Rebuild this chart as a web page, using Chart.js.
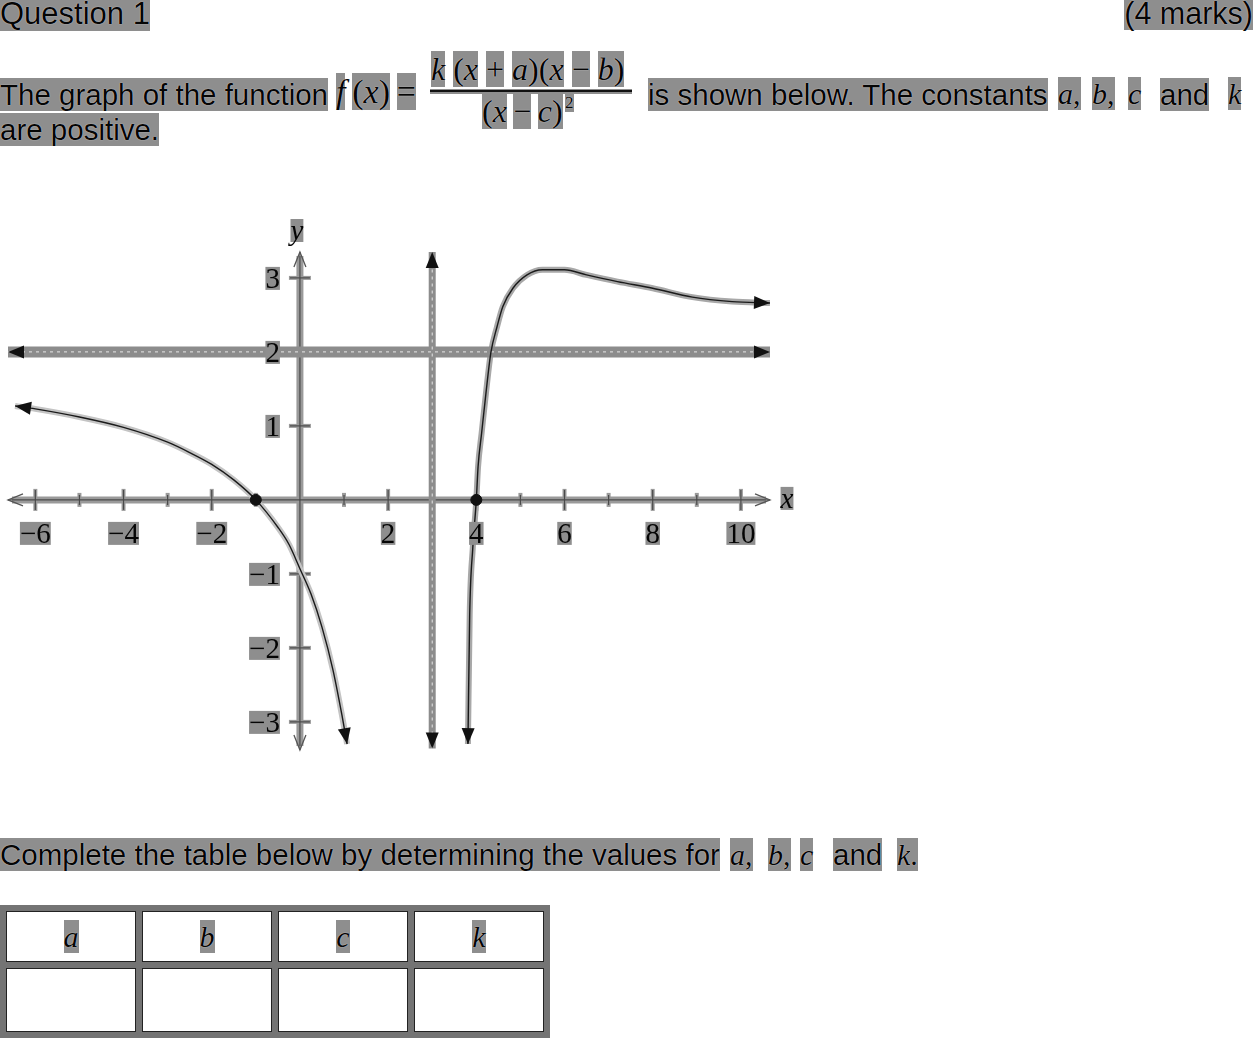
<!DOCTYPE html>
<html>
<head>
<meta charset="utf-8">
<script src="https://cdn.jsdelivr.net/npm/chart.js@4.4.1/dist/chart.umd.min.js"></script>
<style>
  html,body{margin:0;padding:0;background:#fff;}
  body{width:1253px;height:1040px;position:relative;overflow:hidden;}
  .s{position:absolute;font-family:"Liberation Sans",Arial,sans-serif;font-size:29.5px;line-height:29.5px;color:#050505;white-space:nowrap;}
  .m{position:absolute;font-family:"Liberation Serif","Times New Roman",serif;font-style:italic;font-size:30px;line-height:30px;color:#050505;white-space:nowrap;}
  .m .u{font-style:normal;}
  .g{background:#8e8e8e;text-shadow:0 0 1px #fff;}
  #wrap{position:absolute;left:0;top:200px;width:800px;height:570px;}
  table{position:absolute;left:0;top:905px;border-collapse:collapse;}
  td{border:6px solid #747474;width:130px;padding:0;text-align:center;font-family:"Liberation Serif",serif;font-style:italic;font-size:30px;color:#050505;box-shadow:inset 0 0 0 1px #222;}
  tr.h td{height:51px;}
  tr.b td{height:64px;}
</style>
</head>
<body>
<div class="s" style="left:0;top:-2px;font-size:31px;line-height:31px;"><span class="g">Question 1</span></div>
<div class="s" style="right:0;top:-2px;font-size:30.5px;line-height:30.5px;"><span class="g">(4 marks)</span></div>

<div class="s" style="left:0;top:80px;"><span class="g">The graph of the function</span></div>
<div class="m" style="left:336px;top:75px;font-size:34px;line-height:34px;"><span class="g">f</span>&thinsp;<span class="g u">(</span><span class="g">x</span><span class="g u">)</span>&thinsp;<span class="g u">=</span></div>
<div class="m" style="left:431px;top:53px;font-size:32px;line-height:32px;"><span class="g">k</span>&nbsp;<span class="g u">(</span><span class="g">x</span>&nbsp;<span class="g u">+</span>&nbsp;<span class="g">a</span><span class="g u">)(</span><span class="g">x</span>&nbsp;<span class="g u">−</span>&nbsp;<span class="g">b</span><span class="g u">)</span></div>
<div style="position:absolute;left:430px;top:89px;width:202px;height:5px;background:#8e8e8e;"></div>
<div style="position:absolute;left:430px;top:90px;width:202px;height:2px;background:#111;"></div>
<div class="m" style="left:482px;top:95px;font-size:32px;line-height:32px;"><span class="g u">(</span><span class="g">x</span>&thinsp;<span class="g u">−</span>&thinsp;<span class="g">c</span><span class="g u">)</span></div>
<div class="m" style="left:565px;top:94px;font-size:17px;line-height:17px;font-style:normal;"><span class="g">2</span></div>
<div class="s" style="left:648px;top:80px;"><span class="g">is shown below. The constants</span></div>
<div class="m" style="left:1058px;top:79px;"><span class="g">a</span><span class="g u">,</span></div>
<div class="m" style="left:1092px;top:79px;"><span class="g">b</span><span class="g u">,</span></div>
<div class="m" style="left:1128px;top:79px;"><span class="g">c</span></div>
<div class="s" style="left:1160px;top:80px;"><span class="g">and</span></div>
<div class="m" style="left:1228px;top:79px;"><span class="g">k</span></div>
<div class="s" style="left:0;top:115px;"><span class="g">are positive.</span></div>

<div id="wrap"><canvas id="c" width="800" height="570"></canvas></div>

<div class="s" style="left:0;top:840px;"><span class="g">Complete the table below by determining the values for</span></div>
<div class="m" style="left:730px;top:840px;"><span class="g">a</span><span class="g u">,</span></div>
<div class="m" style="left:768px;top:840px;"><span class="g">b</span><span class="g u">,</span></div>
<div class="m" style="left:800px;top:840px;"><span class="g">c</span></div>
<div class="s" style="left:833px;top:840px;"><span class="g">and</span></div>
<div class="m" style="left:897px;top:840px;"><span class="g">k</span><span class="g u">.</span></div>

<table>
  <tr class="h"><td><span class="g">a</span></td><td><span class="g">b</span></td><td><span class="g">c</span></td><td><span class="g">k</span></td></tr>
  <tr class="b"><td></td><td></td><td></td><td></td></tr>
</table>

<script>
// ---- data ----
const xMin = -6.62, xMax = 10.66;
const yMin = -3.38, yMax = 3.35;

const leftBranchX = [-6.46, -6, -5, -4, -3, -2.5, -2, -1.5, -1, -0.5, -0.25, 0, 0.25, 0.5, 0.75, 0.95, 1.07];
const leftBranchY = [1.27, 1.23, 1.12, 0.98, 0.78, 0.64, 0.48, 0.27, 0, -0.37, -0.6, -0.93, -1.27, -1.72, -2.3, -2.9, -3.3];

const rightBranchX = [3.81, 3.85, 3.92, 4.0, 4.04, 4.12, 4.22, 4.33, 4.47, 4.6, 4.83, 5.15, 5.5, 6, 6.5, 7.2, 8, 8.9, 9.8, 10.66];
const rightBranchY = [-3.3, -1.55, -0.65, 0, 0.45, 0.9, 1.45, 1.99, 2.34, 2.61, 2.86, 3.04, 3.11, 3.11, 3.04, 2.95, 2.86, 2.74, 2.68, 2.66];

const hAsymX = [-6.62, 10.66];
const hAsymY = [2, 2];
const vAsymX = [3, 3];
const vAsymY = [-3.36, 3.35];

const zerosX = [-1, 4];
const zerosY = [0, 0];

const xTickValues = [-6, -5, -4, -3, -2, -1, 1, 2, 3, 4, 5, 6, 7, 8, 9, 10];
const xLabelValues = [-6, -4, -2, 2, 4, 6, 8, 10];
const xLabelTexts = ['−6', '−4', '−2', '2', '4', '6', '8', '10'];
const yTickValues = [-3, -2, -1, 1, 2, 3];
const yLabelTexts = ['−3', '−2', '−1', '1', '2', '3'];

const pts = (xs, ys) => xs.map((v, i) => ({x: v, y: ys[i]}));

function filledArrow(ctx, tx, ty, ang, len, half) {
  const bx = tx - len * Math.cos(ang), by = ty - len * Math.sin(ang);
  ctx.beginPath();
  ctx.moveTo(tx, ty);
  ctx.lineTo(bx + half * Math.sin(ang), by - half * Math.cos(ang));
  ctx.lineTo(bx - half * Math.sin(ang), by + half * Math.cos(ang));
  ctx.closePath();
  ctx.fill();
}
function openArrow(ctx, tx, ty, ang, len, half) {
  const bx = tx - len * Math.cos(ang), by = ty - len * Math.sin(ang);
  ctx.beginPath();
  ctx.moveTo(bx + half * Math.sin(ang), by - half * Math.cos(ang));
  ctx.lineTo(tx, ty);
  ctx.lineTo(bx - half * Math.sin(ang), by + half * Math.cos(ang));
  ctx.stroke();
}
function line(ctx, x1, y1, x2, y2) {
  ctx.beginPath(); ctx.moveTo(x1, y1); ctx.lineTo(x2, y2); ctx.stroke();
}
function boxedText(ctx, text, x, y, align) {
  ctx.textAlign = align; ctx.textBaseline = 'alphabetic';
  const w = ctx.measureText(text).width;
  const left = align === 'center' ? x - w / 2 : (align === 'right' ? x - w : x);
  ctx.fillStyle = '#8e8e8e';
  ctx.fillRect(left, y - 21, w, 23);
  ctx.fillStyle = '#050505';
  ctx.fillText(text, x, y);
}

const axesPlugin = {
  id: 'mathAxes',
  beforeDatasetsDraw(chart) {
    const ctx = chart.ctx, sx = chart.scales.x, sy = chart.scales.y;
    const x0 = sx.getPixelForValue(0), y0 = sy.getPixelForValue(0);
    const xl = sx.getPixelForValue(xMin), xr = sx.getPixelForValue(xMax);
    const yt = sy.getPixelForValue(yMax), yb = sy.getPixelForValue(yMin);
    ctx.save();
    ctx.strokeStyle = '#9a9a9a'; ctx.lineWidth = 7;
    line(ctx, xl + 4, y0, xr - 4, y0);
    line(ctx, x0, yt + 4, x0, yb - 4);
    ctx.lineWidth = 4;
    xTickValues.forEach(v => {
      const p = sx.getPixelForValue(v), h = (v % 2 === 0) ? 11 : 7;
      line(ctx, p, y0 - h, p, y0 + h);
    });
    yTickValues.forEach(v => {
      const p = sy.getPixelForValue(v);
      line(ctx, x0 - 11, p, x0 + 11, p);
    });
    ctx.strokeStyle = '#4a4a4a'; ctx.lineWidth = 1.2;
    line(ctx, xl, y0, xr, y0);
    line(ctx, x0, yt, x0, yb);
    xTickValues.forEach(v => {
      const p = sx.getPixelForValue(v), h = (v % 2 === 0) ? 10 : 5;
      line(ctx, p, y0 - h, p, y0 + h);
    });
    yTickValues.forEach(v => {
      const p = sy.getPixelForValue(v);
      line(ctx, x0 - 10, p, x0 + 10, p);
    });
    ctx.strokeStyle = '#555'; ctx.lineWidth = 1.3;
    openArrow(ctx, xl, y0, Math.PI, 15, 6);
    openArrow(ctx, xr, y0, 0, 15, 6);
    openArrow(ctx, x0, yt, -Math.PI / 2, 15, 6);
    openArrow(ctx, x0, yb, Math.PI / 2, 15, 6);
    ctx.restore();
  },
  afterDatasetsDraw(chart) {
    const ctx = chart.ctx, sx = chart.scales.x, sy = chart.scales.y;
    const x0 = sx.getPixelForValue(0), y0 = sy.getPixelForValue(0);
    const xr = sx.getPixelForValue(xMax), yt = sy.getPixelForValue(yMax);
    ctx.save();
    ctx.fillStyle = '#111';
    chart.data.datasets.forEach((ds, i) => {
      if (!ds.arrows) return;
      const d = chart.getDatasetMeta(i).data;
      const n = d.length;
      if (ds.arrows === 'both' || ds.arrows === 'start') {
        filledArrow(ctx, d[0].x, d[0].y, Math.atan2(d[0].y - d[1].y, d[0].x - d[1].x), 16, 6.5);
      }
      if (ds.arrows === 'both' || ds.arrows === 'end') {
        filledArrow(ctx, d[n - 1].x, d[n - 1].y, Math.atan2(d[n - 1].y - d[n - 2].y, d[n - 1].x - d[n - 2].x), 16, 6.5);
      }
    });
    // tick labels on top
    ctx.font = '29px "Liberation Serif", serif';
    xLabelValues.forEach((v, i) => boxedText(ctx, xLabelTexts[i], sx.getPixelForValue(v), y0 + 43, 'center'));
    yTickValues.forEach((v, i) => boxedText(ctx, yLabelTexts[i], x0 - 20, sy.getPixelForValue(v) + 10, 'right'));
    ctx.font = 'italic 29px "Liberation Serif", serif';
    boxedText(ctx, 'x', xr + 17, y0 + 8, 'center');
    boxedText(ctx, 'y', x0 - 3, yt - 12, 'center');
    ctx.restore();
  }
};

const noPts = {pointRadius: 0, pointHoverRadius: 0, showLine: true};

new Chart(document.getElementById('c'), {
  type: 'scatter',
  data: {
    datasets: [
      {data: pts(zerosX, zerosY), pointRadius: 5.5, pointBackgroundColor: '#111', pointBorderColor: '#111', showLine: false, order: 0},
      Object.assign({data: pts(leftBranchX, leftBranchY), borderColor: '#1a1a1a', borderWidth: 1.4, cubicInterpolationMode: 'monotone', arrows: 'both', order: 1}, noPts),
      Object.assign({data: pts(rightBranchX, rightBranchY), borderColor: '#1a1a1a', borderWidth: 1.4, cubicInterpolationMode: 'monotone', arrows: 'both', order: 1}, noPts),
      Object.assign({data: pts(leftBranchX, leftBranchY), borderColor: '#c4c4c4', borderWidth: 6, cubicInterpolationMode: 'monotone', order: 8}, noPts),
      Object.assign({data: pts(rightBranchX, rightBranchY), borderColor: '#a8a8a8', borderWidth: 6, cubicInterpolationMode: 'monotone', order: 8}, noPts),
      Object.assign({data: pts(hAsymX, hAsymY), borderColor: '#e6e6e6', borderWidth: 1, borderDash: [3, 4], arrows: 'both', order: 4}, noPts),
      Object.assign({data: pts(hAsymX, hAsymY), borderColor: '#8c8c8c', borderWidth: 11, order: 6}, noPts),
      Object.assign({data: pts(vAsymX, vAsymY), borderColor: '#e6e6e6', borderWidth: 1, borderDash: [3, 4], arrows: 'both', order: 4}, noPts),
      Object.assign({data: pts(vAsymX, vAsymY), borderColor: '#8c8c8c', borderWidth: 7, order: 6}, noPts)
    ]
  },
  options: {
    responsive: false,
    animation: false,
    devicePixelRatio: 1,
    layout: {padding: {left: 8, right: 30, top: 52, bottom: 20}},
    plugins: {legend: {display: false}, tooltip: {enabled: false}},
    scales: {
      x: {type: 'linear', min: xMin, max: xMax, display: false},
      y: {type: 'linear', min: yMin, max: yMax, display: false}
    }
  },
  plugins: [axesPlugin]
});
</script>
</body>
</html>
